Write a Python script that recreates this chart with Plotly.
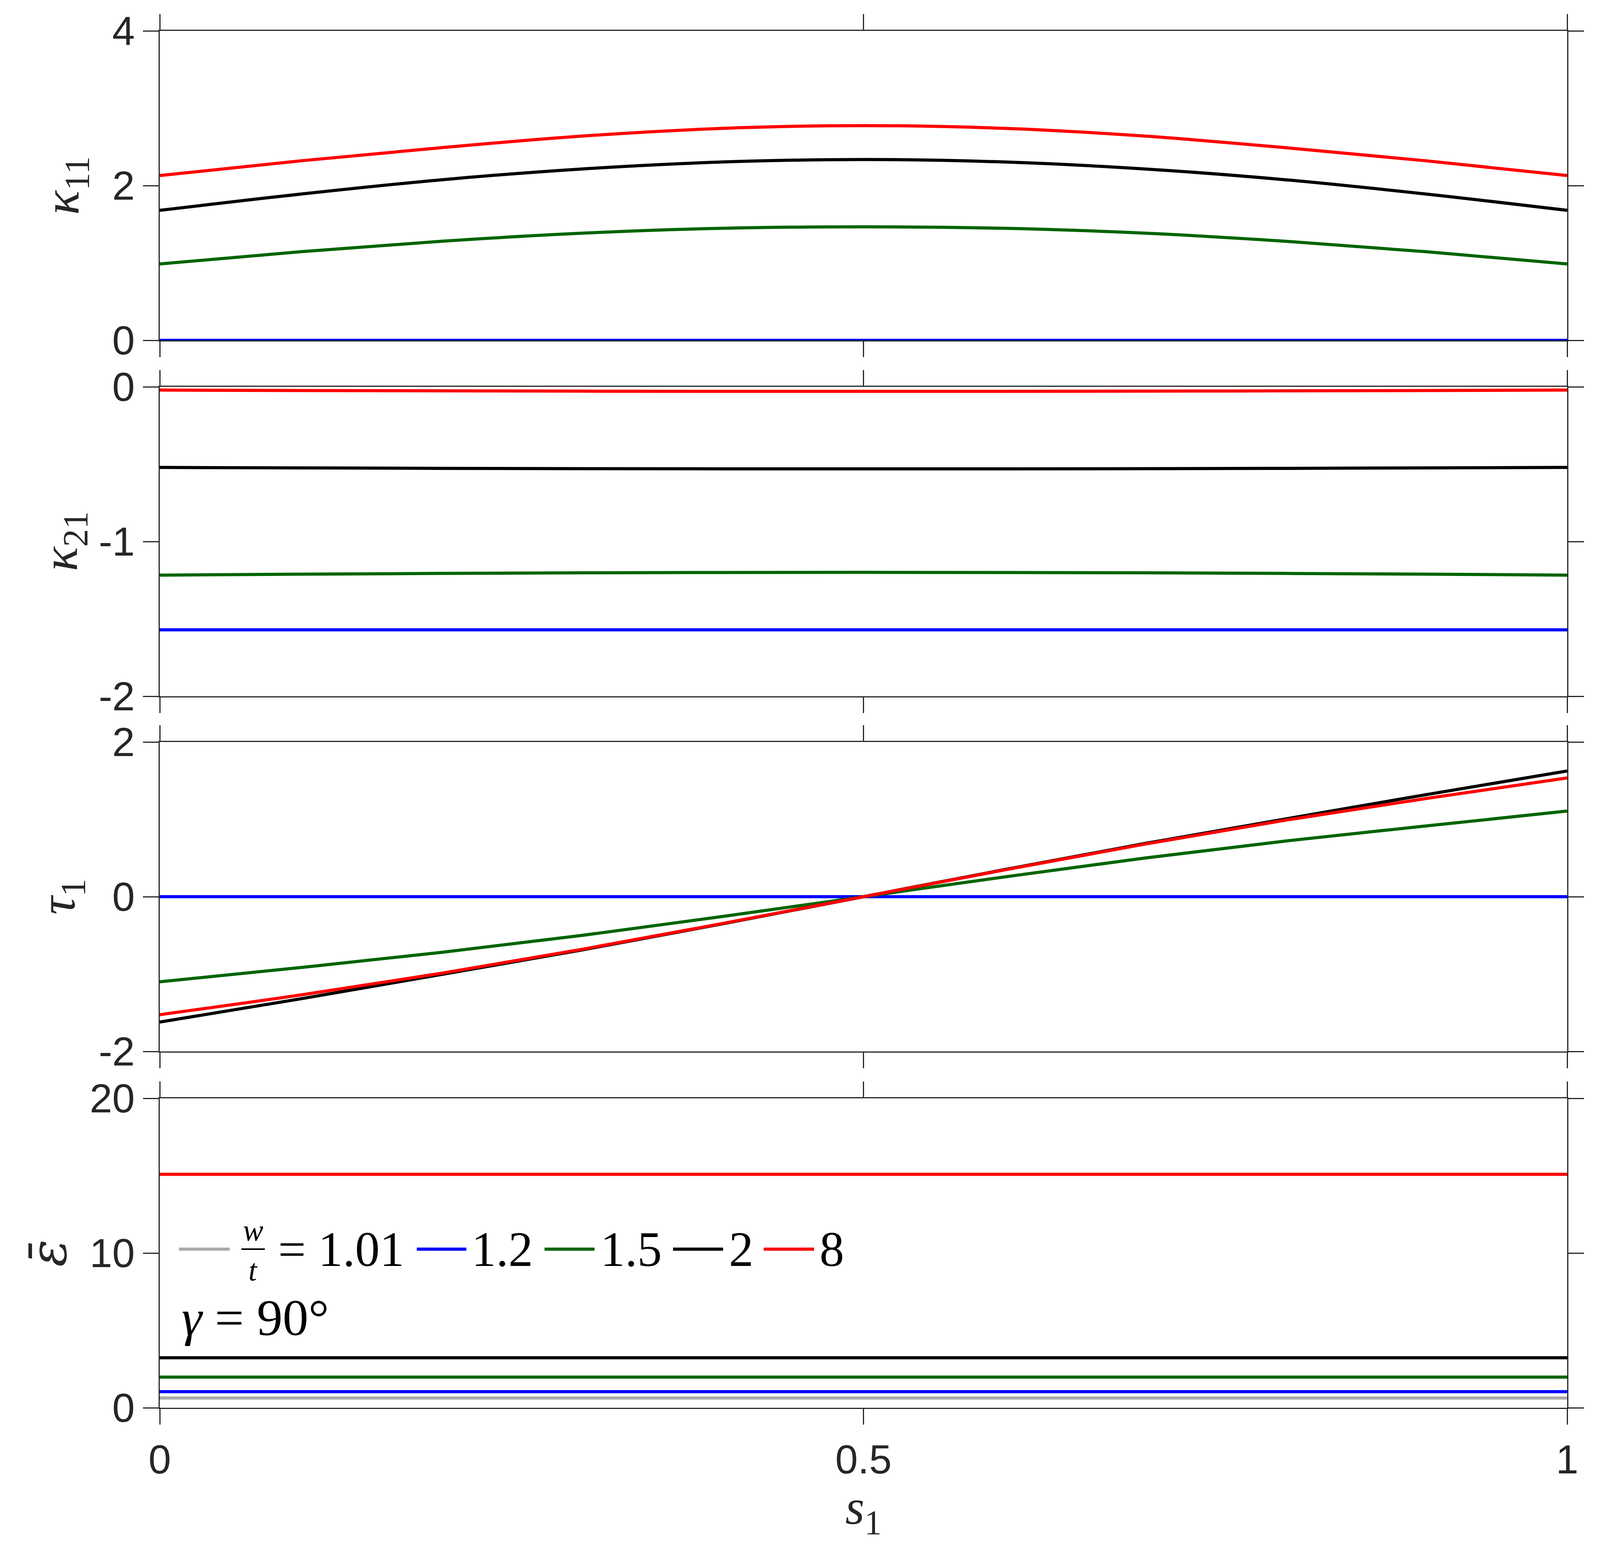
import plotly.graph_objects as go

# s1 sample points
s1 = [0, 0.1, 0.2, 0.3, 0.4, 0.5, 0.6, 0.7, 0.8, 0.9, 1]

# w/t ratios and colours
ratios = ["1.01", "1.2", "1.5", "2", "8"]
colors = ["#aaaaaa", "#0000ff", "#006400", "#000000", "#ff0000"]

# kappa_11 (gray hidden under blue at 0)
k11_gray = [0, 0, 0, 0, 0, 0, 0, 0, 0, 0, 0]
k11_blue = [0, 0, 0, 0, 0, 0, 0, 0, 0, 0, 0]
k11_green = [0.987, 1.145, 1.28, 1.385, 1.448, 1.467, 1.448, 1.385, 1.28, 1.145, 0.987]
k11_black = [1.68, 1.89, 2.075, 2.215, 2.305, 2.337, 2.305, 2.215, 2.075, 1.89, 1.68]
k11_red = [2.13, 2.32, 2.49, 2.64, 2.74, 2.775, 2.74, 2.64, 2.49, 2.32, 2.13]

# kappa_21
k21_blue = [-1.571] * 11
k21_green = [-1.217, -1.211, -1.206, -1.202, -1.200, -1.199, -1.200, -1.202, -1.206, -1.211, -1.217]
k21_black = [-0.521, -0.524, -0.527, -0.529, -0.530, -0.530, -0.530, -0.529, -0.527, -0.524, -0.521]
k21_red = [-0.021, -0.024, -0.026, -0.028, -0.029, -0.029, -0.029, -0.028, -0.026, -0.024, -0.021]

# tau_1
t1_blue = [0, 0, 0, 0, 0, 0, 0, 0, 0, 0, 0]
t1_green = [-1.10, -0.915, -0.72, -0.50, -0.255, 0, 0.255, 0.50, 0.72, 0.915, 1.107]
t1_black = [-1.62, -1.32, -1.005, -0.688, -0.35, 0, 0.35, 0.688, 1.005, 1.32, 1.625]
t1_red = [-1.525, -1.27, -0.99, -0.68, -0.345, 0, 0.345, 0.68, 0.99, 1.27, 1.535]

# strain energy (constant along s1)
eps_gray = [0.63] * 11
eps_blue = [1.04] * 11
eps_green = [1.98] * 11
eps_black = [3.23] * 11
eps_red = [15.09] * 11

# axis ticks
x_ticks = [0, 0.5, 1]
x_ticktext = ["0", "0.5", "1"]
y1_ticks, y1_text = [0, 2, 4], ["0", "2", "4"]
y2_ticks, y2_text = [-2, -1, 0], ["-2", "-1", "0"]
y3_ticks, y3_text = [-2, 0, 2], ["-2", "0", "2"]
y4_ticks, y4_text = [0, 10, 20], ["0", "10", "20"]

panels = [
    ([k11_gray, k11_blue, k11_green, k11_black, k11_red], [0, 4], y1_ticks, y1_text),
    ([None, k21_blue, k21_green, k21_black, k21_red], [-2, 0], y2_ticks, y2_text),
    ([None, t1_blue, t1_green, t1_black, t1_red], [-2, 2], y3_ticks, y3_text),
    ([eps_gray, eps_blue, eps_green, eps_black, eps_red], [0, 20], y4_ticks, y4_text),
]

W, H = 4107, 3967
x_dom = [401 / W, 4004 / W]
tops = [71, 982, 1891, 2803]
ph = 792

AX = "#262626"
tickfont = dict(family="Liberation Sans, Arial, sans-serif", size=104, color=AX)
serif = "Liberation Serif, DejaVu Serif, serif"

fig = go.Figure()
layout = dict(
    width=W, height=H,
    margin=dict(l=0, r=0, t=0, b=0, autoexpand=False),
    paper_bgcolor="white", plot_bgcolor="white",
    showlegend=False,
)

for i, (series, yr, yt, ytt) in enumerate(panels):
    n = "" if i == 0 else str(i + 1)
    for col, ys in zip(colors, series):
        if ys is None:
            continue
        fig.add_trace(go.Scatter(
            x=s1, y=ys, mode="lines", line=dict(color=col, width=8, shape="spline"),
            xaxis="x" + n, yaxis="y" + n, hoverinfo="skip"))
    top = tops[i]
    dom = [1 - (top + ph) / H, 1 - top / H]
    layout["xaxis" + n] = dict(
        domain=x_dom, range=[0, 1], anchor="y" + n, automargin=False,
        tickvals=x_ticks, ticktext=x_ticktext, showticklabels=(i == 3),
        ticks="outside", ticklen=40, tickwidth=3, tickcolor=AX,
        showline=True, linecolor=AX, linewidth=3, mirror="allticks",
        showgrid=False, zeroline=False, tickfont=tickfont,
    )
    layout["yaxis" + n] = dict(
        domain=dom, range=yr, anchor="x" + n, automargin=False,
        tickvals=yt, ticktext=ytt,
        ticks="outside", ticklen=40, tickwidth=3, tickcolor=AX,
        showline=True, linecolor=AX, linewidth=3, mirror="allticks",
        showgrid=False, zeroline=False, tickfont=tickfont,
    )

fig.update_layout(**layout)

# y labels
ylabels = [
    ("<i>κ</i><sub>11</sub>", 158, serif),
    ("<i>κ</i><sub>21</sub>", 154, serif),
    ("<i>τ</i><sub>1</sub>", 148, serif),
    ("<i>ε̄</i>", 116, "DejaVu Serif, serif"),
]
for i, (txt, xp, fam) in enumerate(ylabels):
    top = tops[i]
    yc = 1 - (top + ph / 2) / H
    fig.add_annotation(text=txt, x=xp / W, y=yc, xref="paper", yref="paper",
                       xanchor="center", yanchor="middle", borderpad=0,
                       textangle=-90, showarrow=False,
                       font=dict(family=fam, size=130, color=AX))

# x label
fig.add_annotation(text="<i>s</i><sub>1</sub>", x=0.5 * (x_dom[0] + x_dom[1]), y=1 - 3858 / H,
                   xref="paper", yref="paper", xanchor="center", yanchor="middle",
                   borderpad=0, showarrow=False,
                   font=dict(family=serif, size=126, color=AX))

# legend drawn in the bottom panel
leg_y = 1 - 3189 / H
seg = [(450, 580), (1059, 1186), (1386, 1514), (1715, 1843), (1947, 2076)]
lab_x = [702, 1197, 1527, 1856, 2088]
for (a, b), col, lx, r in zip(seg, colors, lab_x, ratios):
    fig.add_shape(type="line", xref="paper", yref="paper",
                  x0=a / W, x1=b / W, y0=leg_y, y1=leg_y,
                  line=dict(color=col, width=8))
    txt = "= " + r if r == ratios[0] else r
    fig.add_annotation(text=txt, x=lx / W, y=leg_y, xref="paper", yref="paper",
                       xanchor="left", yanchor="middle", showarrow=False,
                       font=dict(family=serif, size=126, color="black"))

# w/t fraction
fig.add_annotation(text="<i>w</i>", x=640 / W, y=1 - 3140 / H, xref="paper", yref="paper",
                   xanchor="center", yanchor="middle", borderpad=0,
                   showarrow=False, font=dict(family=serif, size=78, color="black"))
fig.add_annotation(text="<i>t</i>", x=640 / W, y=1 - 3242 / H, xref="paper", yref="paper",
                   xanchor="center", yanchor="middle", borderpad=0,
                   showarrow=False, font=dict(family=serif, size=78, color="black"))
fig.add_shape(type="line", xref="paper", yref="paper", x0=610 / W, x1=670 / W,
              y0=1 - 3189 / H, y1=1 - 3189 / H, line=dict(color="black", width=4))

fig.add_annotation(text="<i>γ</i> = 90°", x=455 / W, y=1 - 3364 / H, xref="paper", yref="paper",
                   xanchor="left", yanchor="middle", showarrow=False,
                   font=dict(family=serif, size=132, color="black"))

fig.write_html("out.html")
